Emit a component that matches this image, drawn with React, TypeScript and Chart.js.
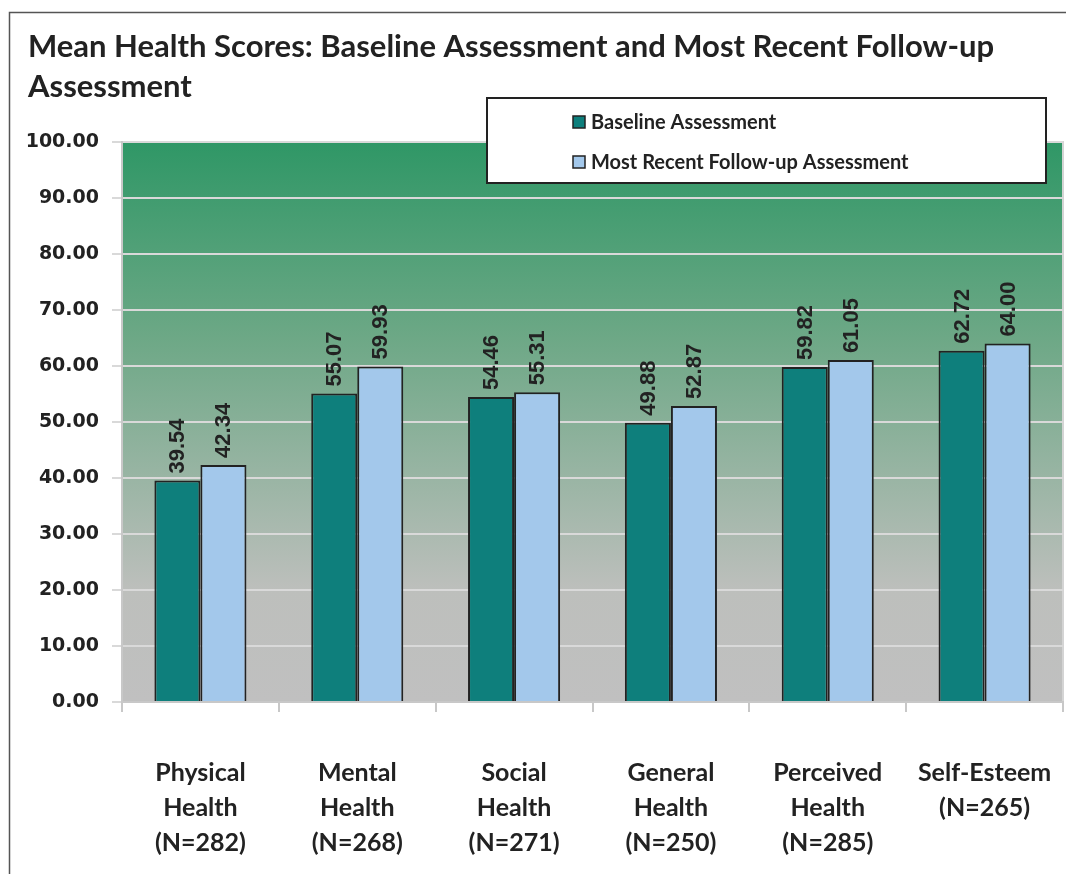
import React, { useEffect, useRef } from "react";
import { Chart, registerables } from "chart.js";

Chart.register(...registerables);

const categories: string[][] = [
  ["Physical", "Health", "(N=282)"],
  ["Mental", "Health", "(N=268)"],
  ["Social", "Health", "(N=271)"],
  ["General", "Health", "(N=250)"],
  ["Perceived", "Health", "(N=285)"],
  ["Self-Esteem", "(N=265)"],
];
const baselineValues = [39.54, 55.07, 54.46, 49.88, 59.82, 62.72];
const followUpValues = [42.34, 59.93, 55.31, 52.87, 61.05, 64.0];
const seriesNames = ["Baseline Assessment", "Most Recent Follow-up Assessment"];
const seriesColors = ["#0E7F7C", "#A3C8EB"];
const titleLines = [
  "Mean Health Scores: Baseline Assessment and Most Recent Follow-up",
  "Assessment",
];
const yMin = 0;
const yMax = 100;
const yStep = 10;

const W = 1066;
const H = 874;

const decorPlugin = {
  id: "decor",
  beforeDraw(chart: any) {
    const { ctx, chartArea } = chart;
    ctx.save();
    ctx.fillStyle = "#FFFFFF";
    ctx.fillRect(0, 0, W, H);
    // outer frame
    ctx.strokeStyle = "#555555";
    ctx.lineWidth = 1.5;
    ctx.beginPath();
    ctx.moveTo(9.5, H);
    ctx.lineTo(9.5, 12.5);
    ctx.lineTo(W, 12.5);
    ctx.stroke();
    // plot gradient
    const g = ctx.createLinearGradient(0, chartArea.top, 0, chartArea.bottom);
    g.addColorStop(0, "#2F9766");
    g.addColorStop(0.35, "#6DA886");
    g.addColorStop(0.8, "#BDBFBC");
    g.addColorStop(1, "#C0C0C0");
    ctx.fillStyle = g;
    ctx.fillRect(chartArea.left, chartArea.top, chartArea.right - chartArea.left, chartArea.bottom - chartArea.top);
    ctx.strokeStyle = "#D4D4D4";
    ctx.lineWidth = 2;
    ctx.strokeRect(chartArea.left, chartArea.top, chartArea.right - chartArea.left, chartArea.bottom - chartArea.top);
    // title
    ctx.fillStyle = "#222222";
    ctx.font = "bold 31px Lato";
    ctx.textAlign = "left";
    ctx.textBaseline = "alphabetic";
    ctx.fillText(titleLines[0], 28, 57);
    ctx.fillText(titleLines[1], 28, 97);
    ctx.restore();
  },
  afterDatasetsDraw(chart: any) {
    const { ctx } = chart;
    ctx.save();
    ctx.fillStyle = "#222222";
    ctx.font = "bold 22px 'Liberation Sans'";
    ctx.textAlign = "left";
    ctx.textBaseline = "middle";
    chart.data.datasets.forEach((ds: any, di: number) => {
      const meta = chart.getDatasetMeta(di);
      meta.data.forEach((el: any, i: number) => {
        const v = ds.data[i] as number;
        ctx.save();
        ctx.translate(el.x, el.y - 7);
        ctx.rotate(-Math.PI / 2);
        ctx.fillText(v.toFixed(2), 0, 1);
        ctx.restore();
      });
    });
    ctx.restore();
  },
  afterDraw(chart: any) {
    const { ctx, chartArea } = chart;
    ctx.save();
    const bx = chartArea.right - 17 - 559;
    const by = chartArea.top - 44;
    ctx.fillStyle = "#FFFFFF";
    ctx.fillRect(bx, by, 559, 85);
    ctx.strokeStyle = "#222222";
    ctx.lineWidth = 2;
    ctx.strokeRect(bx, by, 559, 85);
    ctx.font = "bold 20px Lato";
    ctx.textAlign = "left";
    ctx.textBaseline = "middle";
    seriesNames.forEach((name, i) => {
      const cy = by + 24 + i * 40;
      ctx.fillStyle = seriesColors[i];
      ctx.fillRect(bx + 86, cy - 6, 12, 12);
      ctx.strokeStyle = "#222222";
      ctx.lineWidth = 1.5;
      ctx.strokeRect(bx + 86, cy - 6, 12, 12);
      ctx.fillStyle = "#222222";
      ctx.fillText(name, bx + 104, cy + 1);
    });
    ctx.restore();
  },
};

export default function App() {
  const ref = useRef<HTMLCanvasElement | null>(null);
  useEffect(() => {
    if (!ref.current) return;
    const chart = new Chart(ref.current, {
      type: "bar",
      data: {
        labels: categories,
        datasets: [
          {
            label: seriesNames[0],
            data: baselineValues,
            backgroundColor: seriesColors[0],
            borderColor: "#222222",
            borderWidth: 2,
            barPercentage: 1,
            categoryPercentage: 0.587,
          },
          {
            label: seriesNames[1],
            data: followUpValues,
            backgroundColor: seriesColors[1],
            borderColor: "#222222",
            borderWidth: 2,
            barPercentage: 1,
            categoryPercentage: 0.587,
          },
        ],
      },
      options: {
        animation: false,
        responsive: false,
        devicePixelRatio: 1,
        layout: { padding: { top: 142, right: 3, left: 0, bottom: 0 } },
        plugins: {
          legend: { display: false },
          title: { display: false },
          tooltip: { enabled: false },
        },
        scales: {
          x: {
            offset: true,
            grid: {
              display: true,
              drawOnChartArea: false,
              drawTicks: true,
              tickLength: 10,
              offset: true,
              color: "#C8C8C8",
              lineWidth: 2,
            },
            border: { display: true, color: "#C8C8C8", width: 2 },
            ticks: {
              color: "#222222",
              padding: 43,
              maxRotation: 0,
              autoSkip: false,
              font: { family: "Lato", weight: "bold", size: 25, lineHeight: "35px" },
            },
            afterFit: (s: any) => {
              s.height = 172;
              s.paddingLeft = 0;
              s.paddingRight = 0;
            },
          },
          y: {
            min: yMin,
            max: yMax,
            grid: {
              color: "#D9D9D9",
              lineWidth: 2,
              drawTicks: true,
              tickLength: 10,
            },
            border: { display: true, color: "#C8C8C8", width: 2 },
            ticks: {
              stepSize: yStep,
              color: "#222222",
              padding: 13,
              font: { family: "DejaVu Sans", weight: "bold", size: 19 },
              callback: (v: any) => Number(v).toFixed(2),
            },
            afterFit: (s: any) => {
              s.width = 122;
              s.paddingTop = 0;
              s.paddingBottom = 0;
            },
          },
        },
      },
      plugins: [decorPlugin],
    });
    return () => chart.destroy();
  }, []);
  return (
    <div style={{ position: "fixed", left: 0, top: 0, width: W, height: H }}>
      <canvas ref={ref} width={W} height={H} style={{ width: W, height: H, display: "block" }} />
    </div>
  );
}
